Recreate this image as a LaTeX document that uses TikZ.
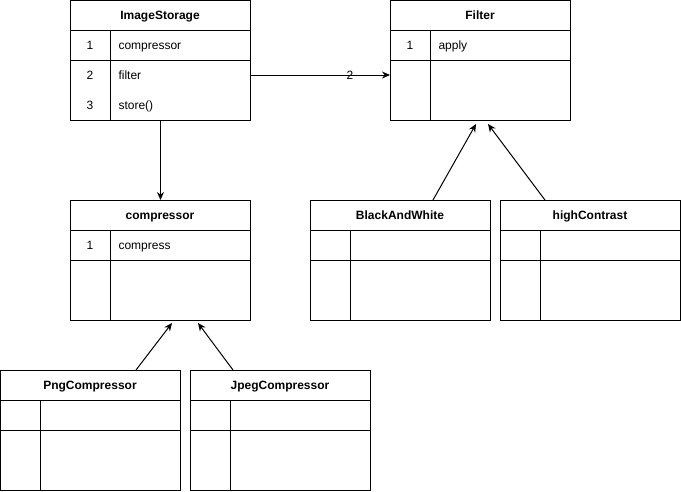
\documentclass[tikz,border=0pt]{standalone}
\usepackage{fontspec}
\setmainfont{Liberation Sans}
\usetikzlibrary{arrows.meta,calc}
\newcommand\umlcls[4]{%
  \node[box] (#1) at (#2,#3) {};
  \node[ttl] (#1-title) at (#2+90,#3+19.3) {#4};
  \draw (#2,#3+30) -- (#2+180,#3+30);
  \draw (#2,#3+60) -- (#2+180,#3+60);
  \draw (#2+40,#3+30) -- (#2+40,#3+120);
}
\begin{document}
\begin{tikzpicture}[x=1pt,y=-1pt,line width=1pt,
  box/.style={draw,minimum width=180pt,minimum height=120pt,inner sep=0pt,anchor=north west},
  ttl/.style={font=\bfseries\fontsize{12}{14}\selectfont,inner sep=0pt,anchor=base},
  txt/.style={font=\fontsize{12}{14}\selectfont,anchor=base west,inner sep=0pt},
  num/.style={font=\fontsize{12}{14}\selectfont,inner sep=0pt,anchor=base},
  arr/.style={-{Stealth[length=8pt,width=7pt]},line width=1pt}]
\useasboundingbox (0,0) rectangle (681,491);

\umlcls{img}{70}{0}{ImageStorage}
\node[num] (img-n1) at (90,49.3) {1};
\node[txt] (img-r1) at (118,49.3) {compressor};
\node[num] (img-n2) at (90,79.3) {2};
\node[txt] (img-r2) at (118,79.3) {filter};
\node[num] (img-n3) at (90,109.3) {3};
\node[txt] (img-r3) at (118,109.3) {store()};

\umlcls{flt}{390}{0}{Filter}
\node[num] (flt-n1) at (410,49.3) {1};
\node[txt] (flt-r1) at (438,49.3) {apply};

\umlcls{cmp}{70}{200}{compressor}
\node[num] (cmp-n1) at (90,249.3) {1};
\node[txt] (cmp-r1) at (118,249.3) {compress};

\umlcls{bw}{310}{200}{BlackAndWhite}
\umlcls{hc}{500}{200}{highContrast}
\umlcls{png}{0}{370}{PngCompressor}
\umlcls{jpg}{190}{370}{JpegCompressor}

% association ImageStorage -> Filter
\coordinate (a1s) at (250,75);
\coordinate (a1e) at (390,75);
\draw[arr] (a1s) -- (a1e);
\node[num] (lbl2) at (350,79.3) {2};

% ImageStorage -> compressor
\draw[arr] (img.south) -- (cmp.north);

% inheritance to Filter
\coordinate (bwS) at (433,200);
\coordinate (bwE) at (476,124);
\draw[arr] (bwS) -- (bwE);
\coordinate (hcS) at (545,200);
\coordinate (hcE) at (488,124);
\draw[arr] (hcS) -- (hcE);

% inheritance to compressor
\coordinate (pngS) at (136,370);
\coordinate (pngE) at (172,323);
\draw[arr] (pngS) -- (pngE);
\coordinate (jpgS) at (233,370);
\coordinate (jpgE) at (198,323);
\draw[arr] (jpgS) -- (jpgE);
\end{tikzpicture}
\end{document}
